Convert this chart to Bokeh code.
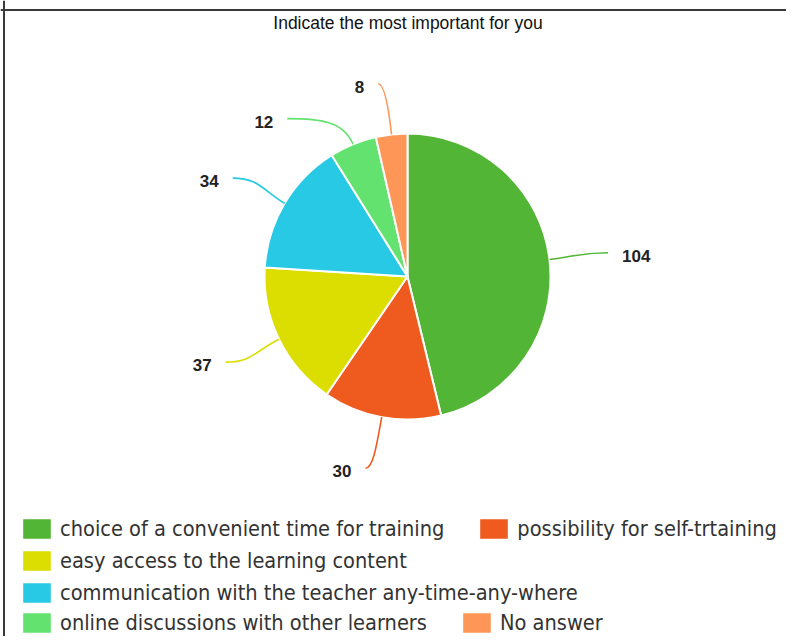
import numpy as np
from bokeh.plotting import figure
from bokeh.models import Range1d, Legend, LegendItem, ColumnDataSource, Span
from bokeh.core.properties import value
from bokeh.embed import file_html
from bokeh.resources import INLINE

# ---------------- data ----------------
title_text = "Indicate the most important for you"
categories = [
    "choice of a convenient time for training",
    "possibility for self-trtaining",
    "easy access to the learning content",
    "communication with the teacher any-time-any-where",
    "online discussions with other learners",
    "No answer",
]
counts = [104, 30, 37, 34, 12, 8]
colors = ["#53b535", "#ef5a1f", "#dcdd00", "#27c9e4", "#64e26f", "#fd9656"]

# ---------------- layout ----------------
W, H = 786, 636
PAGE_H = 644


def Y(sy):
    return PAGE_H - sy


CX, CY, R = 407, Y(276), 143
LABEL_R = 200
# small screen-pixel tweaks of label anchors (layout only)
label_shift = [(2, 0), (-6, -5), (-2, -2), (-3, 4), (-44, 27), (-7, 6)]

vals = np.array(counts, dtype=float)
total = vals.sum()
cum = np.concatenate([[0.0], np.cumsum(vals)])
f0 = cum[:-1] / total
f1 = cum[1:] / total
start = np.pi / 2 - 2 * np.pi * f0
end = np.pi / 2 - 2 * np.pi * f1
theta = np.pi * (f0 + f1)  # clockwise from top, mid angle
ux, uy = np.sin(theta), np.cos(theta)

src = ColumnDataSource(dict(start=start, end=end, color=colors, label=categories))

p = figure(width=W, height=H,
           x_range=Range1d(0, W), y_range=Range1d(Y(H), Y(0)),
           output_backend="svg", toolbar_location=None, min_border=0,
           x_axis_location=None, y_axis_location=None)
p.grid.visible = False
p.outline_line_color = None
p.background_fill_color = "white"
p.border_fill_color = "white"

wr = p.wedge(x=CX, y=CY, radius=R, start_angle="start", end_angle="end",
             direction="clock", fill_color="color", line_color="white",
             line_width=2, source=src)

# connectors
sdx = np.array([s[0] for s in label_shift], dtype=float)
sdy = np.array([s[1] for s in label_shift], dtype=float)
x0 = CX + R * ux
y0 = CY + R * uy
ex = CX + LABEL_R * ux + sdx
ey = CY + LABEL_R * uy - sdy
cx0 = CX + (R + 25) * ux
cy0 = CY + (R + 25) * uy
side = np.sign(ux)
cx1 = ex - side * 0.5 * np.abs(x0 - ex)
cy1 = ey
csrc = ColumnDataSource(dict(x0=x0, y0=y0, x1=ex, y1=ey, cx0=cx0, cy0=cy0,
                             cx1=cx1, cy1=cy1, color=colors))
p.bezier(x0="x0", y0="y0", x1="x1", y1="y1", cx0="cx0", cy0="cy0",
         cx1="cx1", cy1="cy1", line_color="color", line_width=1.6, source=csrc)

lsrc = ColumnDataSource(dict(
    x=ex + side * 14, y=ey - 3, text=[str(c) for c in counts],
    align=["left" if s > 0 else "right" for s in side]))
p.text(x="x", y="y", text="text", text_align="align", text_baseline="middle",
       text_font=value("Liberation Sans"), text_font_style="bold",
       text_font_size="17px", text_color="#222222", source=lsrc)

# title
p.text(x=[407.5], y=[Y(22)], text=[title_text], text_align="center",
       text_baseline="middle", text_font=value("Liberation Sans"),
       text_font_size="17.5px", text_color="#111111")

# frame lines
p.add_layout(Span(location=Y(9.5), dimension="width", line_color="#3a3a3a", line_width=2))
p.add_layout(Span(location=3.5, dimension="height", line_color="#3a3a3a", line_width=2))

# legend rows
rows = [[0, 1], [2], [3], [4, 5]]
row_centers = [528, 561, 593, 623]
GW, GH = 37, 27
for row, c in zip(rows, row_centers):
    leg = Legend(items=[LegendItem(label=categories[i], renderers=[wr], index=i) for i in row],
                 orientation="horizontal",
                 location=(18, int(round(H - c - GH / 2))),
                 border_line_color=None, background_fill_alpha=0,
                 padding=0, margin=0, spacing=31, label_standoff=5,
                 glyph_width=GW, glyph_height=GH, label_height=GH,
                 label_text_font="DejaVu Sans Condensed",
                 label_text_font_size="21.6px", label_text_color="#333333")
    p.add_layout(leg)

open("out.html", "w").write(file_html(p, INLINE))
